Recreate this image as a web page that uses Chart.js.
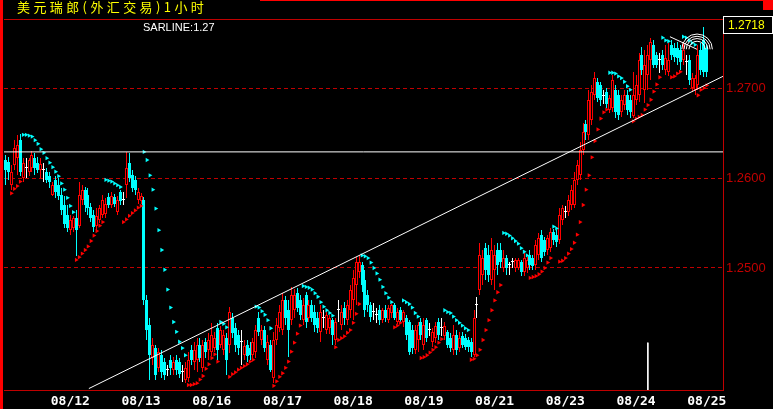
<!DOCTYPE html>
<html>
<head>
<meta charset="utf-8">
<script src="https://cdn.jsdelivr.net/npm/chart.js@4.4.0/dist/chart.umd.min.js"></script>
<style>
  html, body { margin: 0; padding: 0; background: #000; }
  #wrap { position: relative; width: 773px; height: 409px; overflow: hidden; background: #000; }
  #wrap canvas { position: absolute; left: 0; top: 0; }
  .edge { position: absolute; left: 0; top: 0; width: 3px; height: 409px; background: #ff0000; }
  .topline { position: absolute; left: 260px; top: 0; width: 513px; height: 1px; background: #ff0000; }
  .corner { position: absolute; left: 763px; top: 0; width: 10px; height: 10px; background: #ff0000; }
  .title { position: absolute; left: 17px; top: 0; color: #ffff00; font: 13px/13px "Noto Sans CJK SC"; letter-spacing: 3.4px; white-space: nowrap; }
  .sarline { position: absolute; left: 143px; top: 22px; color: #fff; font: 11px/11px "Liberation Sans"; white-space: nowrap; }
  .last { position: absolute; left: 723px; top: 16px; width: 50px; height: 18px; box-sizing: border-box; border: 1px solid #fff; color: #ffff00; font: 12px/16px "Liberation Sans"; padding-left: 4px; }
</style>
</head>
<body>
<div id="wrap">
  <canvas id="c" width="773" height="409"></canvas>
  <div class="edge"></div>
  <div class="topline"></div>
  <div class="corner"></div>
  <div class="title">美元瑞郎(外汇交易)1小时</div>
  <div class="sarline">SARLINE:1.27</div>
  <div class="last">1.2718</div>
</div>
<script>
// hourly bars, one label per trading day
const dayLabels = ['08/12', '08/13', '08/16', '08/17', '08/18', '08/19', '08/21', '08/23', '08/24', '08/25'];
const dayTicks = [22, 46, 70, 94, 118, 142, 166, 190, 214, 238];
const priceTicks = [1.25, 1.26, 1.27];

const opens = [
  1.2620,1.2618,1.2592,1.2614,1.2622,1.2642,1.2600,1.2611,1.2607,1.2611,1.2622,1.2617,
  1.2609,1.2609,1.2607,1.2602,1.2581,1.2598,1.2592,1.2581,1.2570,1.2559,1.2542,1.2544,
  1.2556,1.2547,1.2576,1.2587,1.2581,1.2568,1.2559,1.2547,1.2553,1.2559,1.2560,1.2579,
  1.2570,1.2579,1.2562,1.2584,1.2576,1.2592,1.2617,1.2603,1.2598,1.2576,1.2574,1.2576,
  1.2464,1.2437,1.2400,1.2411,1.2389,1.2403,1.2396,1.2387,1.2398,1.2387,1.2398,1.2396,
  1.2384,1.2376,1.2378,1.2409,1.2396,1.2398,1.2414,1.2389,1.2418,1.2409,1.2407,1.2411,
  1.2433,1.2414,1.2409,1.2422,1.2414,1.2444,1.2433,1.2426,1.2418,1.2403,1.2414,1.2411,
  1.2403,1.2407,1.2444,1.2420,1.2431,1.2398,1.2414,1.2378,1.2420,1.2433,1.2431,1.2464,
  1.2453,1.2442,1.2453,1.2472,1.2464,1.2442,1.2470,1.2444,1.2459,1.2451,1.2444,1.2429,
  1.2444,1.2431,1.2433,1.2442,1.2420,1.2453,1.2437,1.2456,1.2442,1.2453,1.2464,1.2481,
  1.2496,1.2503,1.2487,1.2470,1.2459,1.2451,1.2448,1.2453,1.2442,1.2453,1.2442,1.2450,
  1.2459,1.2440,1.2453,1.2440,1.2444,1.2440,1.2431,1.2409,1.2420,1.2440,1.2414,1.2442,
  1.2431,1.2418,1.2422,1.2440,1.2433,1.2424,1.2429,1.2422,1.2409,1.2426,1.2411,1.2424,
  1.2422,1.2420,1.2418,1.2403,1.2459,1.2476,1.2492,1.2522,1.2514,1.2487,1.2498,1.2520,
  1.2520,1.2500,1.2511,1.2503,1.2507,1.2500,1.2500,1.2507,1.2496,1.2500,1.2514,1.2511,
  1.2503,1.2514,1.2537,1.2531,1.2520,1.2522,1.2540,1.2537,1.2531,1.2553,1.2562,1.2562,
  1.2570,1.2570,1.2598,1.2603,1.2631,1.2660,1.2648,1.2664,1.2692,1.2707,1.2703,1.2691,
  1.2696,1.2676,1.2678,1.2698,1.2692,1.2673,1.2681,1.2692,1.2687,1.2669,1.2687,1.2692,
  1.2737,1.2698,1.2714,1.2731,1.2748,1.2737,1.2731,1.2737,1.2720,1.2718,1.2748,1.2744,
  1.2744,1.2742,1.2731,1.2729,1.2731,1.2700,1.2698,1.2703,1.2742,1.2753,1.2744
];
const closes = [
  1.2609,1.2607,1.2607,1.2633,1.2637,1.2607,1.2617,1.2611,1.2620,1.2626,1.2611,1.2609,
  1.2616,1.2609,1.2598,1.2596,1.2592,1.2584,1.2580,1.2564,1.2549,1.2544,1.2553,1.2556,
  1.2542,1.2581,1.2587,1.2570,1.2567,1.2556,1.2546,1.2558,1.2567,1.2576,1.2571,1.2570,
  1.2580,1.2571,1.2576,1.2574,1.2576,1.2611,1.2600,1.2589,1.2587,1.2584,1.2580,1.2464,
  1.2431,1.2403,1.2414,1.2381,1.2407,1.2384,1.2381,1.2387,1.2389,1.2396,1.2387,1.2382,
  1.2384,1.2389,1.2398,1.2398,1.2409,1.2414,1.2400,1.2414,1.2407,1.2420,1.2426,1.2422,
  1.2409,1.2431,1.2426,1.2398,1.2451,1.2428,1.2414,1.2411,1.2418,1.2413,1.2402,1.2403,
  1.2418,1.2431,1.2429,1.2431,1.2411,1.2418,1.2387,1.2420,1.2437,1.2451,1.2464,1.2444,
  1.2431,1.2470,1.2470,1.2456,1.2448,1.2459,1.2440,1.2459,1.2444,1.2437,1.2433,1.2451,
  1.2444,1.2448,1.2444,1.2426,1.2440,1.2453,1.2451,1.2444,1.2459,1.2476,1.2489,1.2507,
  1.2507,1.2481,1.2453,1.2459,1.2446,1.2451,1.2448,1.2442,1.2453,1.2444,1.2456,1.2459,
  1.2444,1.2451,1.2442,1.2451,1.2426,1.2407,1.2411,1.2431,1.2437,1.2426,1.2437,1.2422,
  1.2431,1.2429,1.2436,1.2426,1.2433,1.2436,1.2414,1.2411,1.2426,1.2409,1.2422,1.2414,
  1.2412,1.2412,1.2407,1.2444,1.2459,1.2514,1.2511,1.2498,1.2492,1.2520,1.2514,1.2503,
  1.2507,1.2511,1.2500,1.2503,1.2507,1.2509,1.2509,1.2496,1.2511,1.2509,1.2503,1.2502,
  1.2526,1.2533,1.2511,1.2518,1.2533,1.2540,1.2531,1.2529,1.2559,1.2567,1.2562,1.2576,
  1.2587,1.2598,1.2614,1.2631,1.2651,1.2651,1.2687,1.2696,1.2711,1.2689,1.2687,1.2691,
  1.2682,1.2689,1.2709,1.2673,1.2670,1.2687,1.2692,1.2676,1.2673,1.2692,1.2703,1.2731,
  1.2720,1.2726,1.2737,1.2751,1.2726,1.2726,1.2731,1.2726,1.2733,1.2731,1.2737,1.2734,
  1.2733,1.2729,1.2742,1.2729,1.2709,1.2711,1.2711,1.2737,1.2720,1.2718,1.2718
];
const highs = [
  1.2626,1.2623,1.2614,1.2642,1.2648,1.2649,1.2622,1.2622,1.2622,1.2630,1.2628,1.2623,
  1.2622,1.2617,1.2611,1.2607,1.2596,1.2602,1.2600,1.2589,1.2580,1.2570,1.2559,1.2558,
  1.2564,1.2596,1.2592,1.2590,1.2589,1.2572,1.2564,1.2567,1.2570,1.2581,1.2578,1.2583,
  1.2584,1.2582,1.2580,1.2587,1.2584,1.2629,1.2628,1.2609,1.2602,1.2589,1.2583,1.2579,
  1.2470,1.2444,1.2422,1.2414,1.2411,1.2409,1.2400,1.2392,1.2403,1.2401,1.2403,1.2400,
  1.2392,1.2396,1.2407,1.2414,1.2418,1.2422,1.2422,1.2420,1.2422,1.2428,1.2439,1.2429,
  1.2439,1.2436,1.2431,1.2428,1.2457,1.2450,1.2439,1.2431,1.2431,1.2420,1.2420,1.2418,
  1.2422,1.2437,1.2451,1.2437,1.2436,1.2426,1.2420,1.2429,1.2444,1.2459,1.2472,1.2469,
  1.2464,1.2479,1.2477,1.2478,1.2470,1.2467,1.2473,1.2464,1.2464,1.2459,1.2451,1.2459,
  1.2453,1.2451,1.2448,1.2444,1.2444,1.2464,1.2459,1.2462,1.2464,1.2481,1.2498,1.2512,
  1.2514,1.2507,1.2498,1.2476,1.2462,1.2461,1.2456,1.2459,1.2456,1.2459,1.2459,1.2460,
  1.2461,1.2456,1.2457,1.2453,1.2448,1.2442,1.2437,1.2437,1.2440,1.2444,1.2444,1.2444,
  1.2439,1.2433,1.2440,1.2444,1.2444,1.2440,1.2431,1.2428,1.2437,1.2431,1.2429,1.2429,
  1.2427,1.2423,1.2422,1.2453,1.2468,1.2528,1.2520,1.2528,1.2526,1.2533,1.2526,1.2528,
  1.2528,1.2520,1.2514,1.2507,1.2511,1.2511,1.2511,1.2509,1.2517,1.2512,1.2520,1.2514,
  1.2531,1.2539,1.2542,1.2534,1.2537,1.2544,1.2543,1.2542,1.2567,1.2570,1.2569,1.2581,
  1.2592,1.2607,1.2620,1.2640,1.2661,1.2664,1.2698,1.2703,1.2718,1.2711,1.2707,1.2698,
  1.2700,1.2692,1.2714,1.2703,1.2698,1.2692,1.2698,1.2698,1.2692,1.2718,1.2714,1.2739,
  1.2746,1.2742,1.2748,1.2756,1.2753,1.2740,1.2739,1.2742,1.2748,1.2750,1.2753,1.2750,
  1.2751,1.2748,1.2751,1.2737,1.2737,1.2717,1.2714,1.2748,1.2750,1.2768,1.2748
];
const lows = [
  1.2592,1.2598,1.2587,1.2609,1.2603,1.2602,1.2596,1.2600,1.2602,1.2607,1.2603,1.2606,
  1.2600,1.2596,1.2594,1.2589,1.2580,1.2578,1.2576,1.2559,1.2544,1.2540,1.2537,1.2540,
  1.2513,1.2544,1.2570,1.2562,1.2559,1.2551,1.2540,1.2542,1.2550,1.2556,1.2556,1.2567,
  1.2567,1.2568,1.2559,1.2570,1.2570,1.2578,1.2596,1.2584,1.2581,1.2571,1.2571,1.2459,
  1.2420,1.2376,1.2392,1.2376,1.2384,1.2378,1.2376,1.2380,1.2381,1.2381,1.2381,1.2378,
  1.2373,1.2372,1.2373,1.2392,1.2387,1.2384,1.2396,1.2384,1.2400,1.2398,1.2402,1.2407,
  1.2398,1.2411,1.2403,1.2381,1.2406,1.2422,1.2407,1.2403,1.2392,1.2398,1.2396,1.2398,
  1.2400,1.2400,1.2424,1.2414,1.2407,1.2392,1.2384,1.2372,1.2414,1.2429,1.2426,1.2437,
  1.2401,1.2437,1.2444,1.2451,1.2442,1.2437,1.2433,1.2440,1.2440,1.2429,1.2428,1.2418,
  1.2433,1.2427,1.2427,1.2414,1.2414,1.2440,1.2431,1.2437,1.2437,1.2444,1.2442,1.2459,
  1.2489,1.2473,1.2446,1.2451,1.2440,1.2442,1.2439,1.2437,1.2439,1.2440,1.2439,1.2444,
  1.2442,1.2438,1.2440,1.2434,1.2420,1.2403,1.2404,1.2404,1.2407,1.2420,1.2409,1.2418,
  1.2424,1.2412,1.2417,1.2420,1.2424,1.2420,1.2411,1.2407,1.2403,1.2403,1.2407,1.2411,
  1.2409,1.2407,1.2401,1.2401,1.2444,1.2470,1.2481,1.2487,1.2484,1.2481,1.2476,1.2492,
  1.2500,1.2496,1.2492,1.2492,1.2500,1.2496,1.2498,1.2491,1.2491,1.2494,1.2498,1.2498,
  1.2498,1.2509,1.2507,1.2513,1.2514,1.2518,1.2526,1.2523,1.2527,1.2548,1.2556,1.2558,
  1.2564,1.2567,1.2592,1.2598,1.2626,1.2642,1.2642,1.2659,1.2687,1.2684,1.2680,1.2682,
  1.2678,1.2672,1.2673,1.2667,1.2664,1.2668,1.2676,1.2670,1.2667,1.2667,1.2681,1.2684,
  1.2714,1.2683,1.2698,1.2709,1.2722,1.2722,1.2717,1.2720,1.2714,1.2713,1.2731,1.2729,
  1.2726,1.2720,1.2726,1.2714,1.2703,1.2696,1.2692,1.2698,1.2714,1.2712,1.2712
];
// parabolic SAR dots, one per bar
const sarLine = [
  null,null,1.2583,1.2588,1.2591,1.2596,1.2648,1.2648,1.2647,1.2646,1.2642,1.2638,
  1.2632,1.2628,1.2622,1.2617,1.2612,1.2607,1.2602,1.2594,1.2587,1.2578,1.2569,1.2562,
  1.2509,1.2512,1.2516,1.2520,1.2524,1.2530,1.2536,1.2541,1.2547,1.2551,1.2598,1.2597,
  1.2596,1.2594,1.2592,1.2590,1.2551,1.2554,1.2558,1.2561,1.2564,1.2567,1.2569,1.2629,
  1.2620,1.2603,1.2587,1.2566,1.2542,1.2520,1.2498,1.2476,1.2456,1.2440,1.2429,1.2418,
  1.2411,1.2403,1.2370,1.2370,1.2371,1.2372,1.2376,1.2380,1.2388,1.2393,1.2400,1.2404,
  1.2396,1.2440,1.2438,1.2434,1.2379,1.2382,1.2384,1.2387,1.2389,1.2391,1.2393,1.2396,
  1.2398,1.2457,1.2456,1.2452,1.2448,1.2442,1.2433,1.2369,1.2374,1.2379,1.2383,1.2389,
  1.2396,1.2407,1.2417,1.2427,1.2436,1.2480,1.2479,1.2478,1.2476,1.2472,1.2468,1.2462,
  1.2457,1.2453,1.2450,1.2447,1.2412,1.2420,1.2422,1.2424,1.2428,1.2431,1.2439,1.2449,
  1.2460,1.2514,1.2513,1.2511,1.2506,1.2500,1.2494,1.2487,1.2479,1.2472,1.2467,1.2462,
  1.2434,1.2436,1.2439,1.2464,1.2462,1.2460,1.2456,1.2450,1.2446,1.2400,1.2401,1.2403,
  1.2406,1.2409,1.2412,1.2417,1.2421,1.2453,1.2451,1.2450,1.2446,1.2442,1.2439,1.2436,
  1.2433,1.2431,1.2398,1.2399,1.2403,1.2409,1.2420,1.2431,1.2442,1.2453,1.2464,1.2473,
  1.2481,1.2539,1.2538,1.2536,1.2533,1.2530,1.2527,1.2522,1.2518,1.2514,1.2489,1.2490,
  1.2491,1.2493,1.2496,1.2500,1.2506,1.2511,1.2546,1.2544,1.2507,1.2508,1.2511,1.2516,
  1.2521,1.2528,1.2537,1.2551,1.2570,1.2587,1.2603,1.2623,1.2641,1.2654,1.2666,1.2673,
  1.2676,1.2717,1.2717,1.2716,1.2713,1.2711,1.2707,1.2702,1.2698,1.2663,1.2666,1.2668,
  1.2670,1.2676,1.2681,1.2687,1.2696,1.2704,1.2712,1.2756,1.2753,1.2752,1.2712,1.2713,
  1.2716,1.2718,1.2757,1.2756,1.2753,1.2750,1.2748,1.2692,1.2698,1.2700,1.2703
];

// drawn lines (bar index, price)
const trendX = [28.3, 243.5];
const trendY = [1.2366, 1.2713];
const levelPrice = 1.2629;
const fibX = [225.5, 234.7];
const fibY = [1.2757, 1.2743];
const fibRadii = [0.0009, 0.0012, 0.00145, 0.0017];
const markerX = 218;
const markerTop = 1.2417;

const yMin = 1.23644;
const yMax = 1.27767;
const xMin = -0.5;
const xMax = 243.5;

const RED = '#ff0000';
const CYAN = '#00ffff';
const WHITE = '#ffffff';
const AXIS = '#c00000';

function candleColor(i) {
  if (closes[i] > opens[i]) return RED;
  if (closes[i] < opens[i]) return CYAN;
  return WHITE;
}
const idx = opens.map((v, i) => i);

// keep thin bars on whole pixels
const snap = {
  id: 'snap',
  afterDatasetsUpdate(chart) {
    chart.getSortedVisibleDatasetMetas().forEach(meta => {
      if (meta.type !== 'bar') return;
      meta.data.forEach(el => {
        el.x = Math.floor(el.x) + 0.5;
        el.y = Math.round(el.y);
        el.base = Math.round(el.base);
      });
    });
  }
};

const extras = {
  id: 'extras',
  afterDatasetsDraw(chart) {
    const { ctx, chartArea: a, scales: { x, y } } = chart;
    ctx.save();
    ctx.fillStyle = AXIS;
    ctx.fillRect(a.left, a.top, a.right - a.left, 1);
    const cx = x.getPixelForValue(fibX[1]);
    const cy = y.getPixelForValue(fibY[1]);
    ctx.strokeStyle = WHITE;
    ctx.lineWidth = 1;
    fibRadii.forEach(r => {
      const rp = y.getPixelForValue(fibY[1] - r) - cy;
      ctx.beginPath();
      ctx.arc(cx, cy, rp, Math.PI, 2 * Math.PI);
      ctx.stroke();
    });
    ctx.restore();
  }
};

function segment(xs, ys) {
  return {
    type: 'line',
    data: [{ x: xs[0], y: ys[0] }, { x: xs[1], y: ys[1] }],
    borderColor: WHITE,
    borderWidth: 1,
    pointRadius: 0,
    fill: false,
    order: 0
  };
}

new Chart(document.getElementById('c'), {
  type: 'bar',
  data: {
    datasets: [
      segment(trendX, trendY),
      segment([xMin, xMax], [levelPrice, levelPrice]),
      segment(fibX, fibY),
      segment([markerX, markerX], [markerTop, yMin]),
      {
        type: 'line',
        label: 'SAR',
        data: idx.map(i => ({ x: i, y: sarLine[i] })),
        showLine: false,
        pointStyle: 'triangle',
        pointRotation: 90,
        pointRadius: 2.5,
        pointBorderWidth: 0,
        pointBackgroundColor: c => (sarLine[c.dataIndex] < closes[c.dataIndex] ? RED : CYAN),
        order: 0
      },
      {
        label: 'wick',
        data: idx.map(i => ({ x: i, y: [lows[i], highs[i]] })),
        grouped: false,
        barThickness: 1,
        inflateAmount: 0,
        borderWidth: 0,
        backgroundColor: c => candleColor(c.dataIndex),
        order: 2
      },
      {
        label: 'body',
        data: idx.map(i => ({ x: i, y: [opens[i], closes[i]] })),
        grouped: false,
        barThickness: 3,
        minBarLength: 1,
        inflateAmount: 0,
        borderSkipped: false,
        borderColor: c => candleColor(c.dataIndex),
        borderWidth: c => (closes[c.dataIndex] > opens[c.dataIndex] ? 1 : 0),
        backgroundColor: c => (closes[c.dataIndex] > opens[c.dataIndex] ? '#000' : candleColor(c.dataIndex)),
        order: 1
      }
    ]
  },
  options: {
    responsive: false,
    animation: false,
    devicePixelRatio: 1,
    layout: { padding: { left: 3, top: 19, right: 0, bottom: 0 } },
    plugins: { legend: { display: false }, tooltip: { enabled: false } },
    scales: {
      x: {
        type: 'linear',
        min: xMin,
        max: xMax,
        offset: false,
        grid: { display: false, drawTicks: false },
        border: { display: true, color: AXIS, width: 1 },
        afterBuildTicks: s => { s.ticks = dayTicks.map(v => ({ value: v })); },
        afterFit: s => { s.height = 19; },
        ticks: {
          autoSkip: false,
          maxRotation: 0,
          padding: 4,
          color: WHITE,
          font: { family: 'DejaVu Sans Mono', size: 13, weight: 'bold' },
          callback: (v, i) => dayLabels[i]
        }
      },
      y: {
        type: 'linear',
        position: 'right',
        min: yMin,
        max: yMax,
        beginAtZero: false,
        grid: { color: AXIS, drawTicks: false, lineWidth: 1 },
        border: { display: true, color: AXIS, dash: [4, 3] },
        afterBuildTicks: s => { s.ticks = priceTicks.map(v => ({ value: v })); },
        afterFit: s => { s.width = 50; },
        ticks: {
          padding: 3,
          color: AXIS,
          font: { family: "'Liberation Sans Narrow', 'Liberation Sans'", size: 13 },
          callback: v => v.toFixed(4)
        }
      }
    }
  },
  plugins: [snap, extras]
});
</script>
</body>
</html>
